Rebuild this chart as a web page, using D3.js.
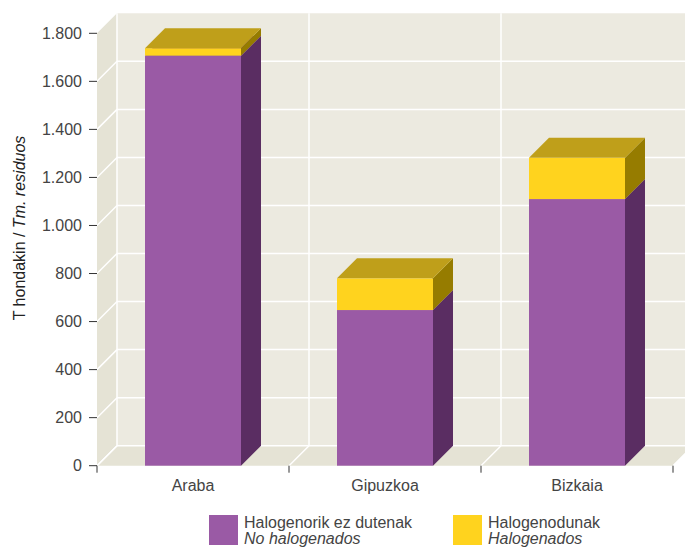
<!DOCTYPE html>
<html><head><meta charset="utf-8">
<script src="https://cdn.jsdelivr.net/npm/d3@7"></script>
<style>body{margin:0;background:#fff}svg{display:block;font-family:"Liberation Sans",Arial,sans-serif}</style>
</head><body><svg id="c" width="685" height="548"></svg>
<script>
const categories = ["Araba", "Gipuzkoa", "Bizkaia"];
const noHalogenados = [1707, 648, 1110];
const halogenados = [31, 132, 172];
const yTicks = [0, 200, 400, 600, 800, 1000, 1200, 1400, 1600, 1800];
const seriesNames = [["Halogenorik ez dutenak", "No halogenados"], ["Halogenodunak", "Halogenados"]];

(function () {
const svg = d3.select("#c");
const pLeft = 97, pRight = 673, pBottom = 465.7, pTop = 33.3, dx = 20, dy = -20;
const x = d3.scaleBand().domain(categories).range([pLeft, pRight]).paddingInner(0).paddingOuter(0);
const y = d3.scaleLinear().domain([0, 1800]).range([pBottom, pTop]);
const fmt = v => d3.format(",")(v).replace(/,/g, ".");
const txt = "#444";

const wallBack = "#ECEAE0", wallSide = "#E5E3D5";
svg.append("polygon").attr("points", [[pLeft+dx, y(1800)+dy],[pRight+dx, y(1800)+dy],[pRight+dx, y(0)+dy],[pLeft+dx, y(0)+dy]].join(" ")).attr("fill", wallBack);
svg.append("polygon").attr("points", [[pLeft, y(1800)],[pLeft+dx, y(1800)+dy],[pLeft+dx, y(0)+dy],[pLeft, y(0)]].join(" ")).attr("fill", wallSide);
svg.append("polygon").attr("points", [[pLeft, y(0)],[pRight, y(0)],[pRight+dx, y(0)+dy],[pLeft+dx, y(0)+dy]].join(" ")).attr("fill", wallSide);

const grid = svg.append("g").attr("stroke", "#fff").attr("stroke-width", 1.5).attr("fill", "none");
yTicks.filter(t => t < 1800).forEach(t => {
  grid.append("line").attr("x1", pLeft+dx).attr("x2", pRight+dx).attr("y1", y(t)+dy).attr("y2", y(t)+dy);
  grid.append("line").attr("x1", pLeft).attr("x2", pLeft+dx).attr("y1", y(t)).attr("y2", y(t)+dy);
});
const bounds = [pLeft].concat(categories.map(c => x(c) + x.bandwidth()));
bounds.forEach(b => {
  grid.append("line").attr("x1", b+dx).attr("x2", b+dx).attr("y1", y(1800)+dy).attr("y2", y(0)+dy);
  grid.append("line").attr("x1", b).attr("x2", b+dx).attr("y1", y(0)).attr("y2", y(0)+dy);
});

const ya = svg.append("g");
yTicks.forEach(t => {
  ya.append("line").attr("x1", pLeft-8).attr("x2", pLeft).attr("y1", y(t)).attr("y2", y(t)).attr("stroke", "#333").attr("stroke-width", 1);
  ya.append("text").attr("x", pLeft-15).attr("y", y(t)).attr("dy", "0.35em").attr("text-anchor", "end")
    .attr("font-size", 16).attr("fill", txt).text(fmt(t));
});
bounds.forEach(b => {
  svg.append("line").attr("x1", b).attr("x2", b).attr("y1", y(0)).attr("y2", y(0)+7).attr("stroke", "#333");
});
categories.forEach(c => {
  svg.append("text").attr("x", x(c) + x.bandwidth()/2).attr("y", 491).attr("text-anchor", "middle")
    .attr("font-size", 16).attr("fill", txt).text(c);
});
const yt = svg.append("text").attr("transform", "translate(25,228) rotate(-90)").attr("text-anchor", "middle")
  .attr("font-size", 16).attr("fill", "#222");
yt.append("tspan").text("T hondakin / ");
yt.append("tspan").attr("font-style", "italic").text("Tm. residuos");

const barW = 96;
const colors = [
  {front: "#9A5AA5", side: "#5A2D62", top: "#7E4A88"},
  {front: "#FFD31E", side: "#967C00", top: "#BF9F1A"}
];
const stackData = categories.map((c, i) => ({cat: c, vals: [noHalogenados[i], halogenados[i]]}));
const bars = svg.append("g");
stackData.forEach(d => {
  const x0 = x(d.cat) + (x.bandwidth() - barW)/2, x1 = x0 + barW;
  let base = 0;
  d.vals.forEach((v, k) => {
    const yb = y(base), ytp = y(base + v);
    const col = colors[k];
    bars.append("rect").attr("x", x0).attr("y", ytp).attr("width", barW).attr("height", yb - ytp).attr("fill", col.front);
    bars.append("polygon").attr("points", [[x1, yb],[x1+dx, yb+dy],[x1+dx, ytp+dy],[x1, ytp]].join(" ")).attr("fill", col.side);
    bars.append("polygon").attr("points", [[x0, ytp],[x1, ytp],[x1+dx, ytp+dy],[x0+dx, ytp+dy]].join(" ")).attr("fill", col.top);
    base += v;
  });
});

const legend = svg.append("g");
const legX = [209, 453];
seriesNames.forEach((n, k) => {
  legend.append("rect").attr("x", legX[k]).attr("y", 515).attr("width", 29).attr("height", 30).attr("fill", colors[k].front);
  legend.append("text").attr("x", legX[k] + 35).attr("y", 528).attr("font-size", 16).attr("fill", txt).text(n[0]);
  legend.append("text").attr("x", legX[k] + 35).attr("y", 544).attr("font-size", 16).attr("font-style", "italic").attr("fill", txt).text(n[1]);
});
})();
</script></body></html>
